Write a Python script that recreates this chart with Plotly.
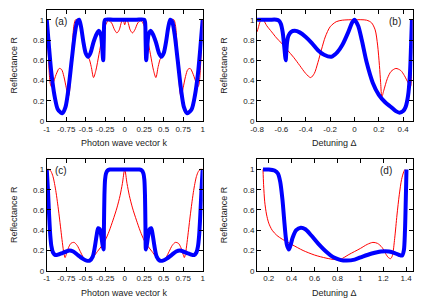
import plotly.graph_objects as go

# ---------------- data ----------------
# panel (a): R vs photon wave vector k
a_blue_k = [-1, -0.97, -0.94, -0.9, -0.86, -0.82, -0.8, -0.76, -0.72, -0.68, -0.64, -0.61, -0.585,
            -0.56, -0.53, -0.5, -0.47, -0.44, -0.4, -0.36, -0.33, -0.305, -0.29, -0.276, -0.268,
            -0.262, -0.25, -0.15, 0, 0.15, 0.25, 0.262, 0.268, 0.276, 0.29, 0.305, 0.33, 0.36,
            0.4, 0.44, 0.47, 0.5, 0.53, 0.56, 0.585, 0.61, 0.64, 0.68, 0.72, 0.76, 0.8, 0.82,
            0.86, 0.9, 0.94, 0.97, 1]
a_blue_R = [1, 0.72, 0.47, 0.25, 0.12, 0.085, 0.08, 0.14, 0.33, 0.6, 0.86, 0.98, 1.0,
            0.93, 0.78, 0.67, 0.635, 0.67, 0.78, 0.86, 0.89, 0.85, 0.74, 0.6, 0.8,
            0.97, 1, 1, 1, 1, 1, 0.97, 0.8, 0.6, 0.74, 0.85, 0.89, 0.86,
            0.78, 0.67, 0.635, 0.67, 0.78, 0.93, 1.0, 0.98, 0.86, 0.6, 0.33, 0.14, 0.08, 0.085,
            0.12, 0.25, 0.47, 0.72, 1]
a_red_k = [-1, -0.985, -0.97, -0.955, -0.94, -0.92, -0.88, -0.84, -0.81, -0.78, -0.75, -0.725,
           -0.71, -0.69, -0.67, -0.65, -0.63, -0.6, -0.575, -0.55, -0.52, -0.49, -0.46, -0.43,
           -0.4, -0.37, -0.33, -0.29, -0.25, -0.21, -0.17, -0.13, -0.1, -0.07, -0.04, -0.02, 0,
           0.02, 0.04, 0.07, 0.1, 0.13, 0.17, 0.21, 0.25, 0.29, 0.33, 0.37, 0.4, 0.43, 0.46,
           0.49, 0.52, 0.55, 0.575, 0.6, 0.63, 0.65, 0.67, 0.69, 0.71, 0.725, 0.75, 0.78, 0.81,
           0.84, 0.88, 0.92, 0.94, 0.955, 0.97, 0.985, 1]
a_red_R = [1.0, 0.75, 0.5, 0.37, 0.34, 0.37, 0.46, 0.52, 0.51, 0.44, 0.33, 0.24,
           0.28, 0.5, 0.78, 0.95, 1.0, 1.0, 0.96, 0.85, 0.72, 0.64, 0.62, 0.54,
           0.43, 0.5, 0.66, 0.82, 0.94, 0.99, 0.97, 0.9, 0.87, 0.9, 0.98, 1.0, 0.95,
           1.0, 0.98, 0.9, 0.87, 0.9, 0.97, 0.99, 0.94, 0.82, 0.66, 0.5, 0.43, 0.54, 0.62,
           0.64, 0.72, 0.85, 0.96, 1.0, 1.0, 0.95, 0.78, 0.5, 0.28, 0.24, 0.33, 0.44, 0.51,
           0.52, 0.46, 0.37, 0.34, 0.37, 0.5, 0.75, 1.0]

# panel (b): R vs detuning
b_blue_d = [-0.8, -0.7, -0.64, -0.62, -0.605, -0.59, -0.578, -0.57, -0.565, -0.56, -0.553,
            -0.543, -0.52, -0.49, -0.45, -0.4, -0.35, -0.3, -0.25, -0.19, -0.14, -0.1, -0.05,
            -0.02, 0, 0.03, 0.06, 0.1, 0.15, 0.2, 0.25, 0.3, 0.34, 0.37, 0.4, 0.42, 0.44,
            0.455, 0.465, 0.472]
b_blue_R = [1, 1, 1, 0.99, 0.96, 0.88, 0.75, 0.65, 0.6, 0.68, 0.78,
            0.84, 0.88, 0.89, 0.875, 0.83, 0.77, 0.7, 0.655, 0.635, 0.68, 0.75, 0.88,
            0.97, 1.0, 0.94, 0.8, 0.58, 0.38, 0.26, 0.19, 0.14, 0.1, 0.085, 0.1, 0.14, 0.25,
            0.45, 0.75, 1.0]
b_red_d = [-0.8, -0.79, -0.775, -0.76, -0.745, -0.72, -0.68, -0.64, -0.6, -0.55, -0.5, -0.45,
           -0.4, -0.36, -0.33, -0.3, -0.27, -0.24, -0.2, -0.15, -0.1, 0, 0.1, 0.14, 0.17, 0.19,
           0.205, 0.215, 0.225, 0.24, 0.27, 0.3, 0.34, 0.38, 0.41, 0.44, 0.46, 0.468, 0.474]
b_red_R = [0.88, 0.92, 0.98, 1.0, 0.99, 0.94, 0.88, 0.82, 0.77, 0.7, 0.63, 0.55,
           0.47, 0.43, 0.47, 0.58, 0.71, 0.83, 0.93, 0.98, 0.995, 1.0, 0.995, 0.97, 0.9, 0.75,
           0.55, 0.38, 0.24, 0.3, 0.42, 0.49, 0.52, 0.5, 0.45, 0.38, 0.34, 0.6, 1.0]

# panel (c): R vs photon wave vector k
c_blue_k = [-1, -0.985, -0.97, -0.955, -0.94, -0.92, -0.89, -0.85, -0.8, -0.75, -0.71, -0.66,
            -0.6, -0.54, -0.49, -0.45, -0.41, -0.38, -0.36, -0.34, -0.32, -0.3, -0.285, -0.272,
            -0.266, -0.26, -0.252, -0.24, -0.22, -0.19, -0.15, 0, 0.15, 0.19, 0.22, 0.24,
            0.252, 0.26, 0.266, 0.272, 0.285, 0.3, 0.32, 0.34, 0.36, 0.38, 0.41, 0.45, 0.49,
            0.54, 0.6, 0.66, 0.71, 0.75, 0.8, 0.85, 0.89, 0.92, 0.94, 0.955, 0.97, 0.985, 1]
c_blue_R = [1, 0.8, 0.55, 0.35, 0.24, 0.18, 0.155, 0.16, 0.175, 0.19, 0.2, 0.19,
            0.155, 0.12, 0.1, 0.1, 0.14, 0.25, 0.35, 0.42, 0.41, 0.34, 0.26, 0.21,
            0.45, 0.75, 0.9, 0.96, 0.99, 1.0, 1.0, 1.0, 1.0, 1.0, 0.99, 0.96,
            0.9, 0.75, 0.45, 0.21, 0.26, 0.34, 0.41, 0.42, 0.35, 0.25, 0.14, 0.1, 0.1,
            0.12, 0.155, 0.19, 0.2, 0.19, 0.175, 0.16, 0.155, 0.18, 0.24, 0.35, 0.55, 0.8, 1]
c_red_k = [-1, -0.97, -0.945, -0.92, -0.9, -0.88, -0.86, -0.84, -0.82, -0.8, -0.78, -0.765,
           -0.75, -0.72, -0.69, -0.65, -0.61, -0.57, -0.53, -0.5, -0.45, -0.4, -0.35, -0.3,
           -0.25, -0.2, -0.15, -0.1, -0.06, -0.03, 0, 0.03, 0.06, 0.1, 0.15, 0.2, 0.25, 0.3,
           0.35, 0.4, 0.45, 0.5, 0.53, 0.57, 0.61, 0.65, 0.69, 0.72, 0.75, 0.765, 0.78, 0.8,
           0.82, 0.84, 0.86, 0.88, 0.9, 0.92, 0.945, 0.97, 1]
c_red_R = [1, 1, 0.98, 0.93, 0.86, 0.77, 0.66, 0.54, 0.41, 0.28, 0.17, 0.13,
           0.16, 0.23, 0.27, 0.28, 0.25, 0.19, 0.13, 0.105, 0.11, 0.14, 0.19, 0.24,
           0.3, 0.39, 0.5, 0.62, 0.74, 0.86, 1.0, 0.86, 0.74, 0.62, 0.5, 0.39, 0.3, 0.24,
           0.19, 0.14, 0.11, 0.105, 0.13, 0.19, 0.25, 0.28, 0.27, 0.23, 0.16, 0.13, 0.17, 0.28,
           0.41, 0.54, 0.66, 0.77, 0.86, 0.93, 0.98, 1, 1]

# panel (d): R vs detuning
d_blue_d = [0.15, 0.2, 0.25, 0.28, 0.3, 0.32, 0.335, 0.35, 0.36, 0.375, 0.39, 0.41, 0.44,
            0.48, 0.52, 0.57, 0.63, 0.7, 0.77, 0.83, 0.88, 0.95, 1.02, 1.1, 1.18, 1.25, 1.3,
            1.34, 1.365, 1.38, 1.39, 1.397, 1.403]
d_blue_R = [1, 1, 0.99, 0.96, 0.88, 0.7, 0.5, 0.32, 0.25, 0.21, 0.25, 0.33, 0.4,
            0.425, 0.41, 0.35, 0.27, 0.19, 0.13, 0.105, 0.1, 0.11, 0.14, 0.17, 0.19, 0.19, 0.175,
            0.155, 0.15, 0.2, 0.4, 0.7, 1.0]
d_red_d = [0.15, 0.155, 0.165, 0.18, 0.2, 0.23, 0.27, 0.32, 0.4, 0.5, 0.6, 0.7, 0.78, 0.83,
           0.9, 1.0, 1.06, 1.11, 1.15, 1.19, 1.22, 1.245, 1.265, 1.28, 1.3, 1.32, 1.34, 1.36,
           1.38, 1.39]
d_red_R = [1, 0.85, 0.68, 0.56, 0.47, 0.4, 0.35, 0.31, 0.26, 0.2, 0.155, 0.125, 0.11, 0.115,
           0.16, 0.22, 0.26, 0.28, 0.27, 0.23, 0.17, 0.13, 0.12, 0.15, 0.32, 0.55, 0.75, 0.9,
           0.98, 1.0]

k_ticks = [-1, -0.75, -0.5, -0.25, 0, 0.25, 0.5, 0.75, 1]
k_ticktext = ["-1", "-0.75", "-0.5", "-0.25", "0", "0.25", "0.5", "0.75", "1"]
b_ticks = [-0.8, -0.6, -0.4, -0.2, 0, 0.2, 0.4]
b_ticktext = ["-0.8", "-0.6", "-0.4", "-0.2", "0", "0.2", "0.4"]
d_ticks = [0.2, 0.4, 0.6, 0.8, 1, 1.2, 1.4]
d_ticktext = ["0.2", "0.4", "0.6", "0.8", "1", "1.2", "1.4"]
R_ticks = [0, 0.2, 0.4, 0.6, 0.8, 1]
R_ticktext = ["0", "0.2", "0.4", "0.6", "0.8", "1"]
panel_labels = ["(a)", "(b)", "(c)", "(d)"]
x_titles = ["Photon wave vector k", "Detuning \u0394", "Photon wave vector k", "Detuning \u0394"]
y_title = "Reflectance R"

# ---------------- figure ----------------
W, H = 431, 302
FONT = "Liberation Sans, Arial, sans-serif"
TXT = "#222222"
RED = "#ff0000"
BLUE = "#0000ff"

# pixel frames: (left, right, top, bottom)
frames = [(40.7, 200.3, 9.7, 123.3), (256.0, 415.3, 9.7, 123.3),
          (40.7, 200.3, 162.0, 275.3), (256.0, 415.3, 162.0, 275.3)]
xranges = [[-1, 1], [-0.8, 0.478], [-1, 1], [0.098, 1.457]]
xticks = [(k_ticks, k_ticktext), (b_ticks, b_ticktext), (k_ticks, k_ticktext), (d_ticks, d_ticktext)]
series = [(a_red_k, a_red_R, a_blue_k, a_blue_R), (b_red_d, b_red_R, b_blue_d, b_blue_R),
          (c_red_k, c_red_R, c_blue_k, c_blue_R), (d_red_d, d_red_R, d_blue_d, d_blue_R)]
label_pos = [(55.5, 22), (397.5, 22), (55.5, 173), (388.5, 173)]

fig = go.Figure()
layout = dict(width=W, height=H, margin=dict(l=0, r=0, t=0, b=0),
              paper_bgcolor="white", plot_bgcolor="white", showlegend=False,
              font=dict(family=FONT, size=9, color=TXT))
annotations = []
for i in range(4):
    n = "" if i == 0 else str(i + 1)
    L, Rr, T, B = frames[i]
    rx, rR, bx, bR = series[i]
    fig.add_trace(go.Scatter(x=rx, y=rR, mode="lines", xaxis="x" + n, yaxis="y" + n,
                             line=dict(color=RED, width=1, shape="spline", smoothing=0.8)))
    fig.add_trace(go.Scatter(x=bx, y=bR, mode="lines", xaxis="x" + n, yaxis="y" + n,
                             line=dict(color=BLUE, width=4, shape="spline", smoothing=0.8)))
    common = dict(showline=True, linecolor="black", linewidth=1, mirror="ticks",
                  ticks="inside", ticklen=4, tickcolor="black", showgrid=False, zeroline=False,
                  tickfont=dict(family=FONT, size=8, color=TXT), tickangle=0)
    layout["xaxis" + n] = dict(domain=[L / W, Rr / W], range=xranges[i], anchor="y" + n,
                               tickmode="array", tickvals=xticks[i][0], ticktext=xticks[i][1],
                               **common)
    layout["yaxis" + n] = dict(domain=[1 - B / H, 1 - T / H], range=[0, 1.1], anchor="x" + n,
                               tickmode="array", tickvals=R_ticks, ticktext=R_ticktext,
                               **common)
    annotations.append(dict(text=x_titles[i], x=(L + Rr) / 2 / W, y=1 - (B + 22.5) / H,
                            xref="paper", yref="paper", showarrow=False,
                            xanchor="center", yanchor="middle",
                            font=dict(family=FONT, size=9, color=TXT)))
    annotations.append(dict(text=y_title, x=(L - 33.5) / W, y=1 - (T + B) / 2 / H,
                            xref="paper", yref="paper", showarrow=False, textangle=-90,
                            xanchor="center", yanchor="middle",
                            font=dict(family=FONT, size=9, color=TXT)))
    annotations.append(dict(text=panel_labels[i], x=label_pos[i][0] / W, y=1 - label_pos[i][1] / H,
                            xref="paper", yref="paper", showarrow=False,
                            xanchor="center", yanchor="middle",
                            font=dict(family=FONT, size=10, color=TXT)))
layout["annotations"] = annotations
fig.update_layout(**layout)
fig.write_html("out.html", config={"displayModeBar": False},
               post_script="document.body.style.margin='0';")
